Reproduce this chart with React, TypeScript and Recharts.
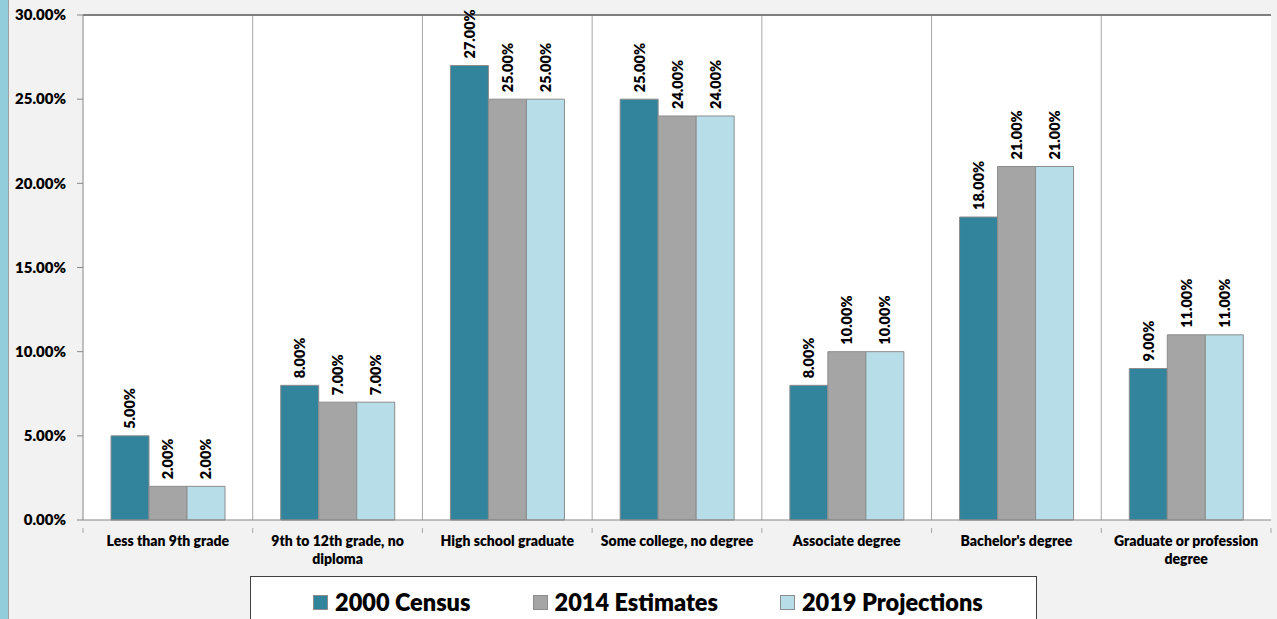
import React from "react";
import {
    BarChart,
    Bar,
    XAxis,
    YAxis,
    CartesianGrid,
    Legend,
    LabelList,
    ReferenceLine,
    Text,
} from "recharts";

const categories = [
    "Less than 9th grade",
    "9th to 12th grade, no diploma",
    "High school graduate",
    "Some college, no degree",
    "Associate degree",
    "Bachelor's degree",
    "Graduate or profession degree",
];
const census2000 = [5, 8, 27, 25, 8, 18, 9];
const estimates2014 = [2, 7, 25, 24, 10, 21, 11];
const projections2019 = [2, 7, 25, 24, 10, 21, 11];
const yTicks = [0, 5, 10, 15, 20, 25, 30];

const series = [
    { key: "census", name: "2000 Census", color: "#31849b" },
    { key: "estimates", name: "2014 Estimates", color: "#a5a5a5" },
    { key: "projections", name: "2019 Projections", color: "#b7dee8" },
];

const data = categories.map((c, i) => ({
    category: c,
    census: census2000[i],
    estimates: estimates2014[i],
    projections: projections2019[i],
}));

const FONT = "Lato, 'Open Sans', sans-serif";
const W = 1277;
const H = 619;
const PLOT_LEFT = 83;
const PLOT_RIGHT = 6;

const pct = (v: number) => `${v.toFixed(2)}%`;

function BarValue(props: any) {
    const { x, y, width, value } = props;
    const cx = x + width / 2;
    const cy = y - 7;
    return (
        <text
            x={cx}
            y={cy}
            transform={`rotate(-90, ${cx}, ${cy})`}
            textAnchor="start"
            dominantBaseline="central"
            fontFamily={FONT}
            fontWeight={800}
            fontSize={14.5}
            fill="#000"
        >
            {pct(value)}
        </text>
    );
}

function CategoryTick(props: any) {
    const { x, y, payload } = props;
    const band = (W - PLOT_LEFT - PLOT_RIGHT) / categories.length;
    const left = x - band / 2;
    return (
        <g>
            <line x1={left} y1={y} x2={left} y2={y + 5} stroke="#a6a6a6" />
            {payload.index === categories.length - 1 && (
                <line x1={left + band} y1={y} x2={left + band} y2={y + 5} stroke="#a6a6a6" />
            )}
            <Text
                x={x}
                y={y + 8}
                width={168}
                textAnchor="middle"
                verticalAnchor="start"
                lineHeight={18}
                fontFamily={FONT}
                fontWeight={800}
                fontSize={14}
                fill="#000"
            >
                {payload.value}
            </Text>
        </g>
    );
}

function LegendBox() {
    return (
        <div
            style={{
                width: 787,
                height: 50,
                boxSizing: "border-box",
                border: "1px solid #404040",
                background: "#fff",
                display: "flex",
                alignItems: "center",
                paddingLeft: 62,
                paddingTop: 2,
                fontFamily: FONT,
                fontWeight: 800,
                fontSize: 23.5,
                color: "#000",
                whiteSpace: "nowrap",
            }}
        >
            {series.map((s) => (
                <div
                    key={s.key}
                    style={{ display: "flex", alignItems: "center", marginRight: 62, flexShrink: 0 }}
                >
                    <span
                        style={{
                            display: "inline-block",
                            width: 13,
                            height: 13,
                            background: s.color,
                            border: "1px solid #8c8c8c",
                            marginRight: 7,
                            flexShrink: 0,
                        }}
                    />
                    <span>{s.name}</span>
                </div>
            ))}
        </div>
    );
}

export default function App() {
    return (
        <div
            style={{
                position: "absolute",
                left: 0,
                top: 0,
                width: W,
                height: H,
                overflow: "hidden",
                background: "#f2f2f2",
            }}
        >
            <div
                style={{
                    position: "absolute",
                    left: 0,
                    top: 0,
                    width: 8,
                    height: H,
                    background: "#92cddc",
                    borderRight: "1px solid #a0a0a0",
                }}
            />
            <BarChart
                width={W}
                height={H}
                data={data}
                margin={{ top: 15, right: PLOT_RIGHT, left: 0, bottom: 0 }}
                barCategoryGap="16.5%"
                barGap={0}
            >
                <CartesianGrid
                    fill="#ffffff"
                    horizontal={false}
                    stroke="#a6a6a6"
                    verticalCoordinatesGenerator={({ offset }: any) =>
                        categories.slice(1).map((_, i) => offset.left + ((i + 1) * offset.width) / categories.length)
                    }
                />
                <XAxis
                    dataKey="category"
                    height={56}
                    tickLine={false}
                    axisLine={{ stroke: "#868686" }}
                    interval={0}
                    tick={<CategoryTick />}
                />
                <YAxis
                    width={PLOT_LEFT}
                    domain={[0, 30]}
                    ticks={yTicks}
                    tickFormatter={pct}
                    tickSize={6}
                    tickMargin={11}
                    axisLine={{ stroke: "#868686" }}
                    tickLine={{ stroke: "#868686" }}
                    tick={{ fontFamily: FONT, fontWeight: 800, fontSize: 15, fill: "#000" }}
                />
                <YAxis
                    yAxisId="right"
                    orientation="right"
                    width={0}
                    domain={[0, 30]}
                    tick={false}
                    tickLine={false}
                    axisLine={{ stroke: "#404040", strokeWidth: 2 }}
                />
                <ReferenceLine y={30} stroke="#7f7f7f" strokeWidth={2} />
                <Legend
                    verticalAlign="bottom"
                    wrapperStyle={{ left: 250, width: 787, height: 43, bottom: 0, overflow: "visible" }}
                    content={<LegendBox />}
                />
                {series.map((s) => (
                    <Bar
                        key={s.key}
                        dataKey={s.key}
                        name={s.name}
                        fill={s.color}
                        stroke="#8c8c8c"
                        strokeWidth={1}
                        isAnimationActive={false}
                    >
                        <LabelList dataKey={s.key} content={<BarValue />} />
                    </Bar>
                ))}
            </BarChart>
        </div>
    );
}
